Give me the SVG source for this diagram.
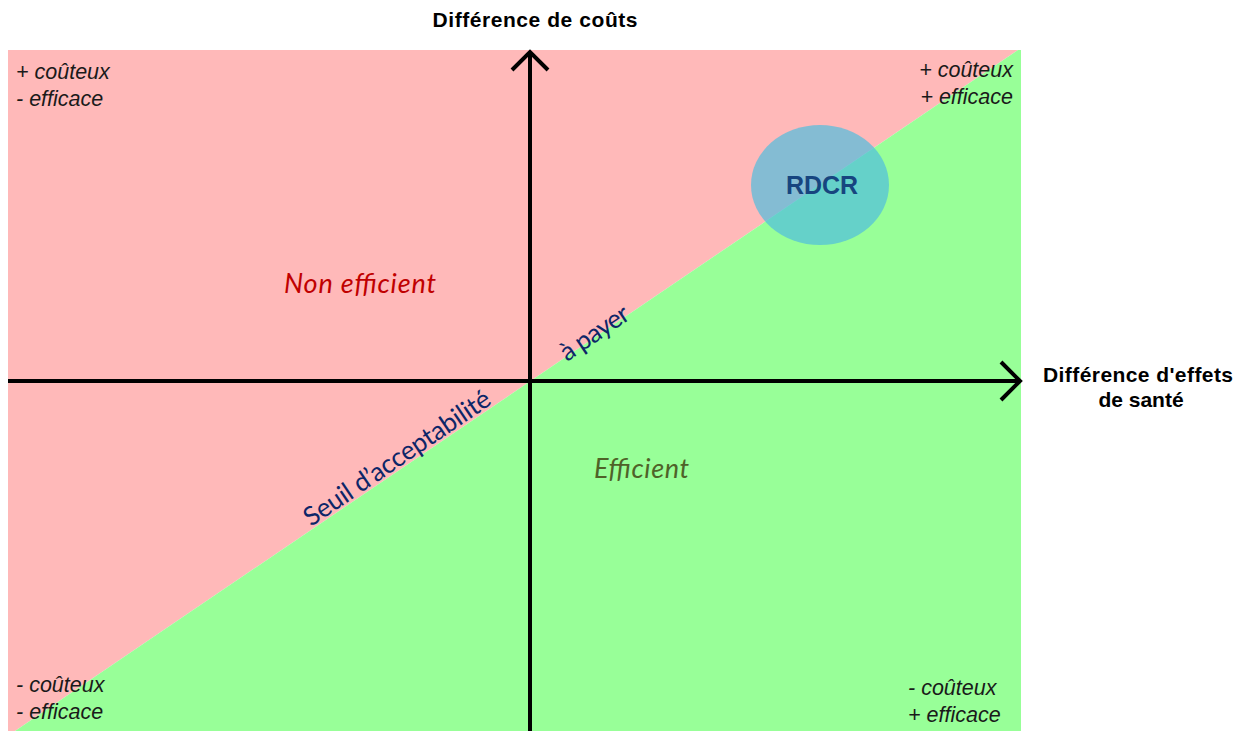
<svg xmlns="http://www.w3.org/2000/svg" width="1251" height="731" viewBox="0 0 1251 731">
<style>
.corner{font-family:"Liberation Sans",Arial,sans-serif;font-style:italic;font-size:21.5px;fill:#1a1a1a}
.axislbl{font-family:"Liberation Sans",Arial,sans-serif;font-weight:bold;font-size:21px;fill:#000}
.zone{font-family:Lato,"Open Sans",sans-serif;font-style:italic;font-size:27px}
.seuil{font-family:Lato,"Open Sans",sans-serif;font-size:26px;fill:#0d2668}
.axis{stroke:#000;stroke-width:4;fill:none}
</style>
<rect width="1251" height="731" fill="#fff"/>
<g id="zones">
<polygon points="8,50 1018,50 15,731 8,731" fill="#FFB9B9"/>
<polygon points="1018,50 1021,50 1021,731 15,731" fill="#98FF98"/>
</g>
<g id="connectors">
<line class="axis" x1="530" y1="731" x2="530" y2="52"/>
<polyline class="axis" points="512,70 530,52 548,70"/>
<line class="axis" x1="8" y1="381" x2="1019" y2="381"/>
<polyline class="axis" points="1001,362 1020,381 1001,400"/>
</g>
<g id="y-axis-label"><text class="axislbl" x="535" y="27" text-anchor="middle" textLength="205">Différence de coûts</text></g>
<g id="x-axis-label">
<text class="axislbl" x="1138" y="382" text-anchor="middle" textLength="190">Différence d'effets</text>
<text class="axislbl" x="1141" y="407" text-anchor="middle">de santé</text>
</g>
<g id="corner-tl"><text class="corner" x="16" y="79">+ coûteux</text><text class="corner" x="16" y="106">- efficace</text></g>
<g id="corner-tr"><text class="corner" x="1013" y="77" text-anchor="end">+ coûteux</text><text class="corner" x="1013" y="104" text-anchor="end">+ efficace</text></g>
<g id="corner-bl"><text class="corner" x="16" y="692">- coûteux</text><text class="corner" x="16" y="719">- efficace</text></g>
<g id="corner-br"><text class="corner" x="908" y="695">- coûteux</text><text class="corner" x="908" y="722">+ efficace</text></g>
<g id="non-efficient"><text class="zone" x="284" y="293" fill="#C00000" textLength="152">Non efficient</text></g>
<g id="efficient"><text class="zone" x="594" y="478" fill="#4F6228" textLength="95">Efficient</text></g>
<g id="seuil">
<text class="seuil" transform="translate(311,527) rotate(-34.2)" textLength="220">Seuil d’acceptabilité</text>
<text class="seuil" transform="translate(567,362) rotate(-34.2)" textLength="78">à payer</text>
</g>
<g id="rdcr">
<ellipse cx="820" cy="185" rx="69" ry="60" fill="rgb(80,190,222)" fill-opacity="0.7"/>
<text x="822" y="194" text-anchor="middle" font-family="Liberation Sans,Arial,sans-serif" font-weight="bold" font-size="25" fill="#17457F">RDCR</text>
</g>
</svg>
